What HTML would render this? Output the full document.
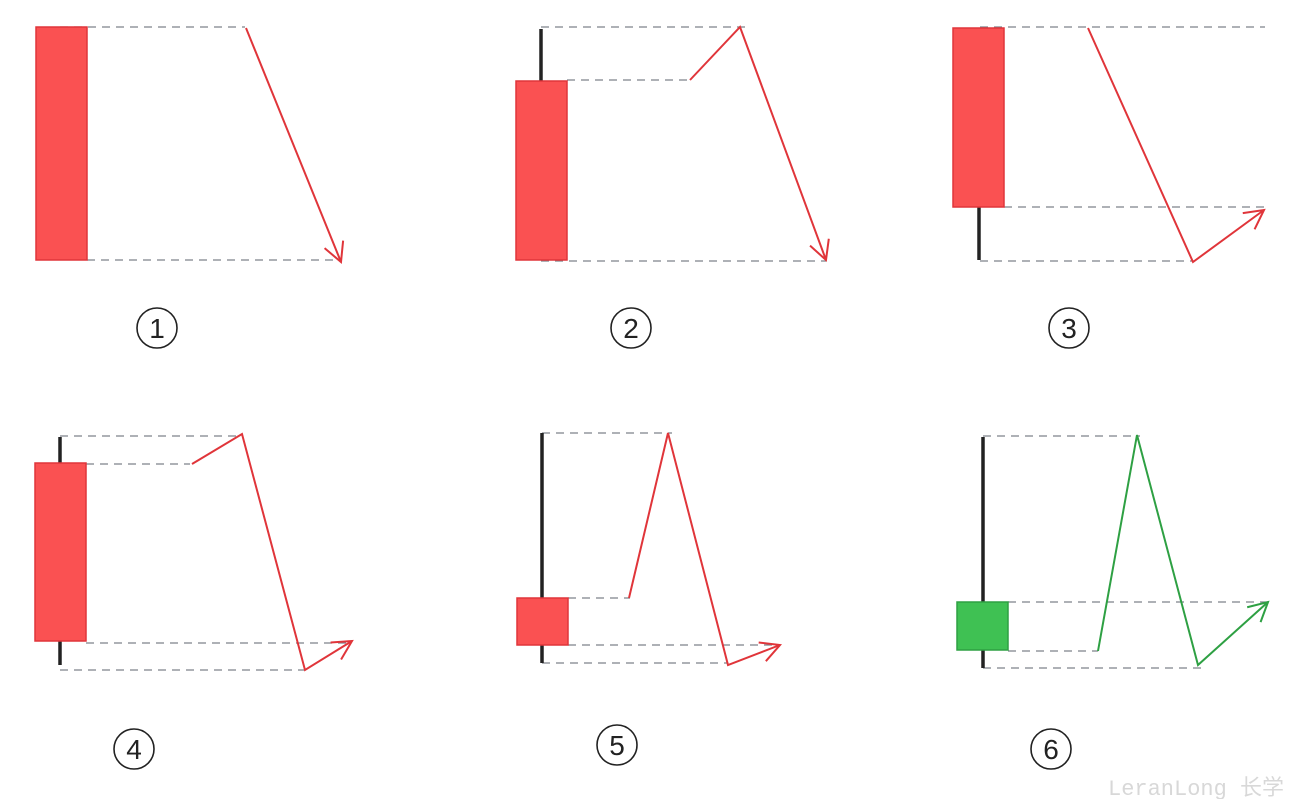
<!DOCTYPE html>
<html><head><meta charset="utf-8"><style>html,body{margin:0;padding:0;background:#fff;}svg{display:block}</style></head>
<body>
<svg width="1297" height="799" viewBox="0 0 1297 799" xmlns="http://www.w3.org/2000/svg">
<defs>
<marker id="ar" markerWidth="26" markerHeight="26" refX="22" refY="13" orient="auto" markerUnits="userSpaceOnUse"><path d="M3,3 L22,13 L3,23" fill="none" stroke="#e0353a" stroke-width="2"/></marker>
<marker id="ag" markerWidth="26" markerHeight="26" refX="22" refY="13" orient="auto" markerUnits="userSpaceOnUse"><path d="M3,3 L22,13 L3,23" fill="none" stroke="#2ea043" stroke-width="2"/></marker>
</defs>
<g stroke="#7d828a" stroke-width="1.3" stroke-dasharray="8,6" fill="none">
<line x1="60" y1="27" x2="245" y2="27"/><line x1="87" y1="260" x2="340" y2="260"/>
<line x1="541" y1="27" x2="745" y2="27"/><line x1="567" y1="80" x2="690" y2="80"/><line x1="541" y1="261" x2="826" y2="261"/>
<line x1="980" y1="27" x2="1265" y2="27"/><line x1="1004" y1="207" x2="1265" y2="207"/><line x1="980" y1="261" x2="1195" y2="261"/>
<line x1="60" y1="436" x2="240" y2="436"/><line x1="86" y1="464" x2="190" y2="464"/><line x1="86" y1="643" x2="350" y2="643"/><line x1="60" y1="670" x2="305" y2="670"/>
<line x1="542" y1="433" x2="672" y2="433"/><line x1="568" y1="598" x2="630" y2="598"/><line x1="568" y1="645" x2="780" y2="645"/><line x1="542" y1="663" x2="728" y2="663"/>
<line x1="983" y1="436" x2="1140" y2="436"/><line x1="1008" y1="602" x2="1268" y2="602"/><line x1="1008" y1="651" x2="1098" y2="651"/><line x1="983" y1="668" x2="1202" y2="668"/>
</g>
<g stroke="#222" stroke-width="3.5">
<line x1="541" y1="29" x2="541" y2="81"/><line x1="979" y1="207" x2="979" y2="260"/>
<line x1="60" y1="437" x2="60" y2="665"/><line x1="542" y1="433" x2="542" y2="663"/><line x1="983" y1="437" x2="983" y2="668"/>
</g>
<g fill="#fa5152" stroke="#e0353a" stroke-width="1.5">
<rect x="36" y="27" width="51" height="233"/><rect x="516" y="81" width="51" height="179"/><rect x="953" y="28" width="51" height="179"/>
<rect x="35" y="463" width="51" height="178"/><rect x="517" y="598" width="51" height="47"/>
</g>
<rect x="957" y="602" width="51" height="48" fill="#3fc153" stroke="#2ea043" stroke-width="1.5"/>
<g fill="none" stroke="#e0353a" stroke-width="2">
<polyline points="246,28 341,262" marker-end="url(#ar)"/>
<polyline points="690,80 740,27 826,260" marker-end="url(#ar)"/>
<polyline points="1088,28 1193,262 1264,210" marker-end="url(#ar)"/>
<polyline points="192,464 242,434 305,670 352,641" marker-end="url(#ar)"/>
<polyline points="629,598 668,433 728,665 780,645" marker-end="url(#ar)"/>
</g>
<polyline points="1098,651 1137,435 1198,665 1268,602" fill="none" stroke="#2ea043" stroke-width="2" marker-end="url(#ag)"/>
<g fill="none" stroke="#222" stroke-width="1.6">
<circle cx="157" cy="328" r="20"/><circle cx="631" cy="328" r="20"/><circle cx="1069" cy="328" r="20"/>
<circle cx="134" cy="749" r="20"/><circle cx="617" cy="745" r="20"/><circle cx="1051" cy="749" r="20"/>
</g>
<g font-family="Liberation Sans, sans-serif" font-size="28" fill="#222" text-anchor="middle">
<text x="157" y="338">1</text><text x="631" y="338">2</text><text x="1069" y="338">3</text>
<text x="134" y="759">4</text><text x="617" y="755">5</text><text x="1051" y="759">6</text>
</g>
<text x="1108" y="795" font-family="Liberation Mono, Noto Sans CJK SC, monospace" font-size="22" fill="#d8d8d8">LeranLong 长学</text>
</svg>
</body></html>
